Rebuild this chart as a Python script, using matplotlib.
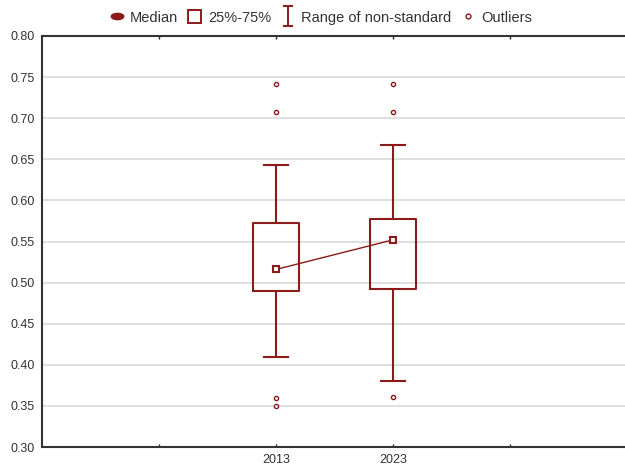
import matplotlib
matplotlib.use("Agg")
import matplotlib.pyplot as plt
from matplotlib.lines import Line2D
from matplotlib.patches import FancyBboxPatch
from matplotlib.path import Path
from matplotlib.transforms import Affine2D

# data
years = ["2013", "2023"]
positions = [2, 3]
medians = [0.516, 0.552]
q1 = [0.490, 0.492]
q3 = [0.573, 0.577]
whisker_lo = [0.409, 0.380]
whisker_hi = [0.643, 0.668]
outliers = [[0.741, 0.707, 0.360, 0.350], [0.741, 0.707, 0.361]]

yticks = [0.30, 0.35, 0.40, 0.45, 0.50, 0.55, 0.60, 0.65, 0.70, 0.75, 0.80]
ytick_marks = [0.40, 0.50, 0.60, 0.70]
xtick_pos = [1, 2, 3, 4]
xtick_labels = ["", "2013", "2023", ""]

RED = "#8b1a1a"
TXT = "#333333"

plt.rcParams["font.family"] = ["Liberation Sans", "DejaVu Sans"]

fig = plt.figure(figsize=(6.25, 4.68), dpi=100)
ax = fig.add_axes([42 / 625, 21 / 468, 585 / 625, 411 / 468])

stats = []
for i in range(len(years)):
    stats.append({
        "med": medians[i], "q1": q1[i], "q3": q3[i],
        "whislo": whisker_lo[i], "whishi": whisker_hi[i],
        "fliers": outliers[i], "label": years[i],
    })

line_kw = dict(color=RED, linewidth=1.5)
ax.bxp(stats, positions=positions, widths=0.4, capwidths=0.2,
       boxprops=line_kw, whiskerprops=line_kw, capprops=line_kw,
       medianprops=dict(linewidth=0),
       flierprops=dict(marker="o", markersize=3, markerfacecolor="white",
                       markeredgecolor=RED, markeredgewidth=1.0),
       manage_ticks=False, zorder=3)

ax.plot(positions, medians, color=RED, linewidth=1.0, zorder=4)
ax.plot(positions, medians, linestyle="none", marker="s", markersize=4.5,
        markerfacecolor="white", markeredgecolor=RED, markeredgewidth=1.5,
        zorder=5)

ax.set_xlim(0, 5)
ax.set_ylim(0.30, 0.80)
ax.set_yticks(yticks)
ax.set_yticklabels([f"{v:.2f}" for v in yticks])
ax.set_yticks(ytick_marks, minor=True)
ax.set_xticks(xtick_pos)
ax.set_xticklabels(xtick_labels)

ax.tick_params(axis="y", which="major", length=0, pad=5, labelsize=9, labelcolor=TXT)
ax.tick_params(axis="y", which="minor", direction="in", length=2.5, width=1, color="#222222")
ax.tick_params(axis="x", direction="in", length=2.5, width=1, color="#222222",
               top=True, pad=5, labelsize=9, labelcolor=TXT)

ax.grid(axis="y", which="major", color="#d9d9d9", linewidth=1.2, zorder=0)
ax.set_axisbelow(True)
for side in ["left", "top", "bottom"]:
    ax.spines[side].set_color("#333333")
    ax.spines[side].set_linewidth(1.5)
ax.spines["right"].set_visible(False)

# legend handles
range_marker = Path([(-0.5, -1), (0.5, -1), (0, -1), (0, 1), (-0.5, 1), (0.5, 1)],
                    [Path.MOVETO, Path.LINETO, Path.MOVETO, Path.LINETO,
                     Path.MOVETO, Path.LINETO])
ellipse = Path.unit_circle().transformed(Affine2D().scale(1.8, 0.9))
h_median = Line2D([], [], linestyle="none", marker=ellipse, markersize=9,
                  markerfacecolor=RED, markeredgecolor=RED)
h_box = FancyBboxPatch((0, 0), 1, 1, boxstyle="round,pad=0,rounding_size=0.25",
                       facecolor="white", edgecolor=RED, linewidth=1.4)
h_range = Line2D([], [], linestyle="none", marker=range_marker, markersize=14,
                 markeredgecolor=RED, markeredgewidth=1.4)
h_out = Line2D([], [], linestyle="none", marker="o", markersize=3.5,
               markerfacecolor="white", markeredgecolor=RED, markeredgewidth=1.0)

fig.legend([h_median, h_box, h_range, h_out],
           ["Median", "25%-75%", "Range of non-standard", "Outliers"],
           loc="center", bbox_to_anchor=(0.5136, 0.9626), ncol=4,
           frameon=False, fontsize=10.5, handlelength=0.9, handleheight=0.9,
           handletextpad=0.45, columnspacing=0.7, labelcolor=TXT,
           borderpad=0, borderaxespad=0)

fig.savefig("out.png", dpi=100)
